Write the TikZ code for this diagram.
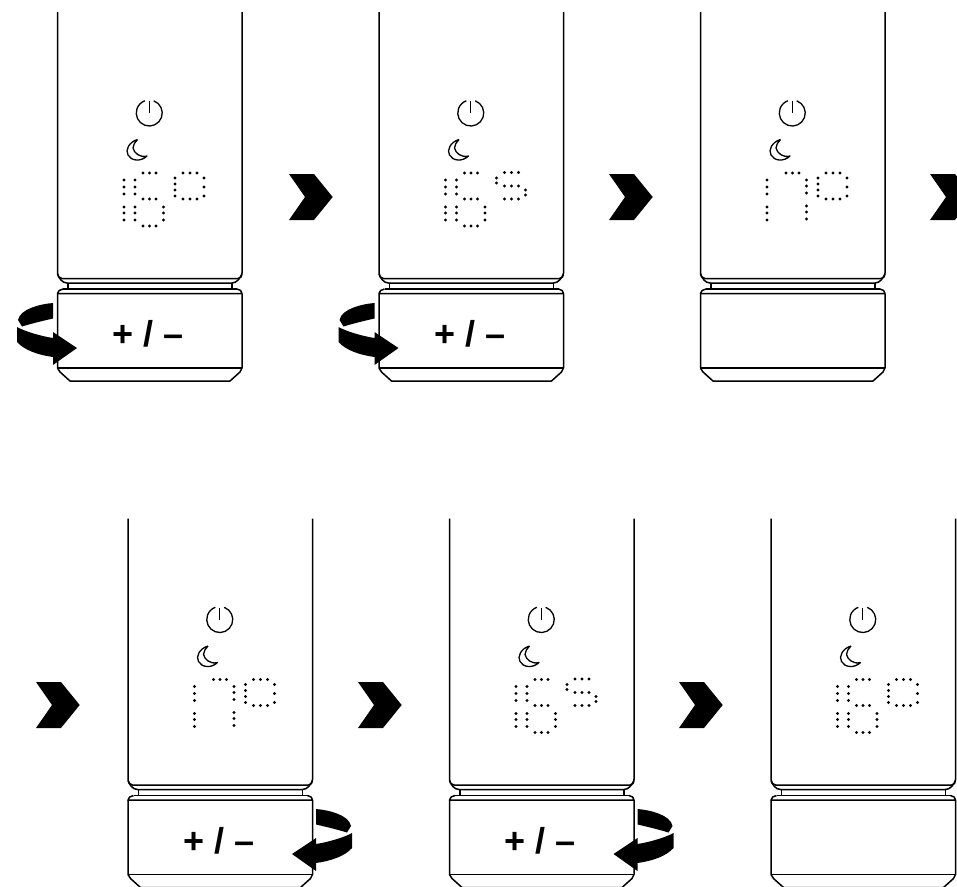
\documentclass[tikz,border=0pt]{standalone}
\usepackage{fontspec}
\setsansfont{Liberation Sans}
\tikzset{
  heater/.style={line width=1.5pt,black,line join=round},
  icon/.style={line width=1.3pt,black,line join=round},
  dot/.style={black},
  dialtext/.style={font=\fontsize{36}{36}\selectfont\sffamily\bfseries,inner sep=0pt},
  heaterbody/.pic={
    \draw [heater] (57.5,12) -- (57.5,273) .. controls (57.5,276) and (59,278.5) .. (62,278.5) -- (238,278.5) .. controls (241,278.5) and (242,276) .. (242,273) -- (242,12);
    \draw [heater] (57.5,274) .. controls (59,278) and (62,283) .. (67,283) -- (232,283) .. controls (237,283) and (240,278) .. (242,274);
    \draw [heater] (68,283) -- (68,289);
    \draw [heater] (232,283) -- (232,289);
    \draw [heater] (63,289) -- (237,289);
    \draw [heater] (63,289) .. controls (60,289.5) and (57.5,291) .. (57.5,293.5) -- (242,293.5) .. controls (242,291) and (240,289.5) .. (237,289);
    \draw [heater] (57.5,293.5) -- (57.5,368) -- (60,372) -- (70,381) -- (230,381) -- (240,372) -- (242,368) -- (242,293.5);
    \draw [heater] (57.5,368) -- (242,368);
    % power and night icons
    \draw [icon] (153.7,100.8) arc [start angle=70,end angle=-250,radius=13pt];
    \draw [icon] (149.3,101) -- (149.3,113);
    \draw [icon] (137.5,139.5) .. controls (129,142) and (125,150) .. (128,155) .. controls (131,161) and (141,162) .. (147,156) .. controls (140,158) and (134,153) .. (133,148) .. controls (133,145) and (135,142) .. (137.5,139.5);
  },
  readtens/.pic={
    \foreach \yy in {180,187,194,207,213,220}
      \fill [dot] (124,\yy) circle (1.7pt);
  },
  readsix/.pic={
    \foreach \xx/\yy in {135/180,135/187,135/194,135/207,135/213,135/220,
      143/173,149.5/173,156/173,143/199,149.5/199,156/199,143/226,149.5/226,156/226,
      163.5/207,163.5/213,163.5/220}
      \fill [dot] (\xx,\yy) circle (1.7pt);
  },
  readseven/.pic={
    \foreach \xx/\yy in {143/173,149.5/173,156/173,
      163.5/180,163.5/186,163.5/193,163.5/206,163.5/212,163.5/219}
      \fill [dot] (\xx,\yy) circle (1.7pt);
  },
  readzero/.pic={
    \foreach \xx/\yy in {183/173,190/173,197/173,183/199,190/199,197/199,
      175/178,175/184,175/190,175/196,204/178,204/187,204/196}
      \fill [dot] (\xx,\yy) circle (1.7pt);
  },
  readfive/.pic={
    \foreach \xx/\yy in {183/172.5,190/172.5,197/172.5,183/186,190/186,197/186,183/199,190/199,197/199,
      175/178,175/183,204/190,204/195}
      \fill [dot] (\xx,\yy) circle (1.7pt);
  },
  dialsign/.pic={
    \node [dialtext] (sign) at (148.5,334) {+ / –};
  },
  turnarrow/.pic={
    \fill (53,303) .. controls (40,304) and (20,309) .. (18,320) -- (22,326.5) .. controls (30,324) and (42,321) .. (53,318.5) -- cycle;
    \fill (17,327) .. controls (24,331) and (40,336) .. (53,338) -- (53,332) -- (77,348) -- (53,365) -- (53,357) .. controls (38,355) and (24,350) .. (17,342) -- cycle;
  },
  chevron/.pic={
    \fill (289,174) -- (314,174) -- (332.7,197) -- (314,220) -- (289,220) -- (305,197) -- cycle;
  },
}
\begin{document}
\begin{tikzpicture}[x=1pt,y=-1pt]
  \useasboundingbox (0,0) rectangle (957,886);
  \clip (0,0) rectangle (957,886);
  % heaters, top row then bottom row
  \foreach \dx/\dy in {0/0,321.5/0,643/0,70.5/506.5,392/506.5,713.5/506.5}
    \pic at (\dx,\dy) {heaterbody};
  \foreach \dx/\dy in {0/0,321.5/0,643/0,70.5/506.5,392/506.5,713.5/506.5}
    \pic at (\dx,\dy) {readtens};
  % readings
  \foreach \dx/\dy in {0/0,321.5/0,392/506.5,713.5/506.5}
    \pic at (\dx,\dy) {readsix};
  \foreach \dx/\dy in {643/0,70.5/506.5}
    \pic at (\dx,\dy) {readseven};
  \foreach \dx/\dy in {0/0,643/0,70.5/506.5,713.5/506.5}
    \pic at (\dx,\dy) {readzero};
  \foreach \dx/\dy in {321.5/0,392/506.5}
    \pic at (\dx,\dy) {readfive};
  % dial labels
  \foreach \dx/\dy in {0/0,321.5/0,70.5/506.5,392/506.5}
    \pic at (\dx,\dy) {dialsign};
  % turning arrows
  \pic at (0,0) {turnarrow};
  \pic at (321.5,0) {turnarrow};
  \pic [xscale=-1] at (369,506) {turnarrow};
  \pic [xscale=-1] at (690.5,506) {turnarrow};
  % chevrons
  \foreach \dx/\dy in {0/0,320/0,641/0,-253/508,69/508,390/508}
    \pic at (\dx,\dy) {chevron};
\end{tikzpicture}
\end{document}
